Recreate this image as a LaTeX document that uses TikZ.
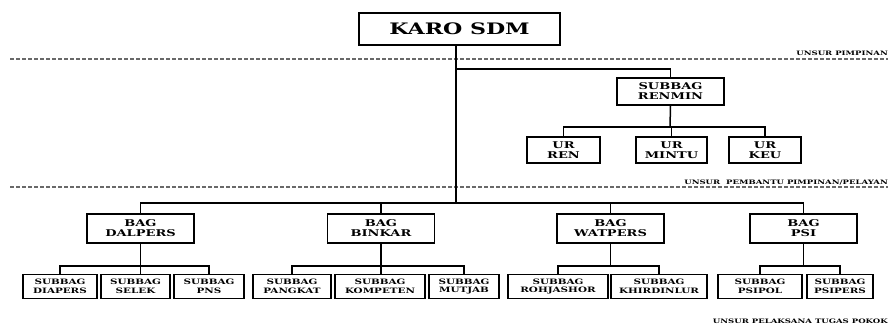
\documentclass[tikz,border=0pt]{standalone}
\usepackage{fontspec}
\setmainfont{DejaVu Serif}[FakeStretch=1.4]
\usepackage{xcolor}
\usetikzlibrary{positioning}
\definecolor{levelgray}{RGB}{105,105,105}

\begin{document}
\begin{tikzpicture}[x=1pt,y=-1pt,
    unit/.style={draw,line width=1.5pt,fill=white,align=center,inner sep=0pt,
      font=\bfseries\fontsize{9.3}{10}\selectfont},
    subunit/.style={unit,minimum height=24pt,font=\bfseries\fontsize{7.4}{8.6}\selectfont},
    conn/.style={line width=1.5pt},
    level/.style={levelgray,line width=1.1pt,dash pattern=on 4pt off 2pt},
    levellabel/.style={anchor=base east,inner sep=0pt,font=\bfseries\fontsize{6.1}{6.5}\selectfont}]
    \useasboundingbox (0,0) rectangle (888,329);

    % levels
    \draw[level] (10,59) -- (888,59);
    \draw[level] (10,187) -- (888,187);
    \node[levellabel] (lblpimpinan) at (888,56) {UNSUR PIMPINAN};
    \node[levellabel] (lblpembantu) at (888,184) {UNSUR\ \ PEMBANTU PIMPINAN/PELAYAN};
    \node[levellabel] (lblpelaksana) at (888,323) {UNSUR PELAKSANA TUGAS POKOK};

    % pimpinan and renmin
    \node[unit,minimum width=201pt,minimum height=32pt,font=\bfseries\fontsize{15.8}{17}\selectfont] (karo) at (459.5,29) {KARO SDM};
    \node[unit,minimum width=107pt,minimum height=27pt] (renmin) at (670.5,91.5) {SUBBAG\\RENMIN};
    \node[unit,minimum width=73pt,minimum height=26pt] (ren) at (563.5,150) {UR\\REN};
    \node[unit,minimum width=71pt,minimum height=26pt] (mintu) at (671.5,150) {UR\\MINTU};
    \node[unit,minimum width=72pt,minimum height=26pt] (keu) at (765,150) {UR\\KEU};

    % bagian
    \foreach \name/\lbl/\cx in {dalpers/DALPERS/140.5,binkar/BINKAR/381,watpers/WATPERS/610.5,psi/PSI/803.5}
      \node[unit,minimum width=107pt,minimum height=29pt] (\name) at (\cx,228.5) {BAG\\\lbl};

    % subbagian
    \foreach \name/\lbl/\cx/\w in {diapers/DIAPERS/60/74,selek/SELEK/135.5/69,pns/PNS/209/70,
        pangkat/PANGKAT/292/78,kompeten/KOMPETEN/380/90,mutjab/MUTJAB/464/70,
        rohjashor/ROHJASHOR/558/100,khirdinlur/KHIRDINLUR/659/96,
        psipol/PSIPOL/760/84,psipers/PSIPERS/840/66}
      \node[subunit,minimum width=\w pt] (\name) at (\cx,286.5) {SUBBAG\\\lbl};

    \coordinate (renbus) at (456,69);
    \coordinate (urbus) at (670,127);
    \coordinate (bagbus) at (456,203);
    \coordinate (subrow) at (0,266);

    \draw[conn] (bagbus |- karo.south) -- (bagbus);
    \draw[conn] (renmin.north) |- (renbus);
    \draw[conn] (renmin.south) -- (urbus);
    \draw[conn] (ren.north) |- (urbus) -| (keu.north);
    \draw[conn] (mintu.north) -- (mintu.north |- urbus);
    \draw[conn] (dalpers.north) |- (bagbus) -| (psi.north);
    \draw[conn] (binkar.north) -- (binkar.north |- bagbus);
    \draw[conn] (watpers.north) -- (watpers.north |- bagbus);

    \draw[conn] (diapers.north) |- (dalpers.south |- subrow) -| (pns.north);
    \draw[conn] (dalpers.south) -- (dalpers.south |- selek.north);
    \draw[conn] (pangkat.north) |- (binkar.south |- subrow) -| (mutjab.north);
    \draw[conn] (binkar.south) -- (binkar.south |- kompeten.north);
    \draw[conn] (rohjashor.north) |- (watpers.south |- subrow) -| (khirdinlur.north);
    \draw[conn] (watpers.south) -- (watpers.south |- subrow);
    \draw[conn] (psipol.north) |- (psi.south |- subrow) -| (psipers.north);
    \draw[conn] (psi.south) -- (psi.south |- subrow);
\end{tikzpicture}
\end{document}
